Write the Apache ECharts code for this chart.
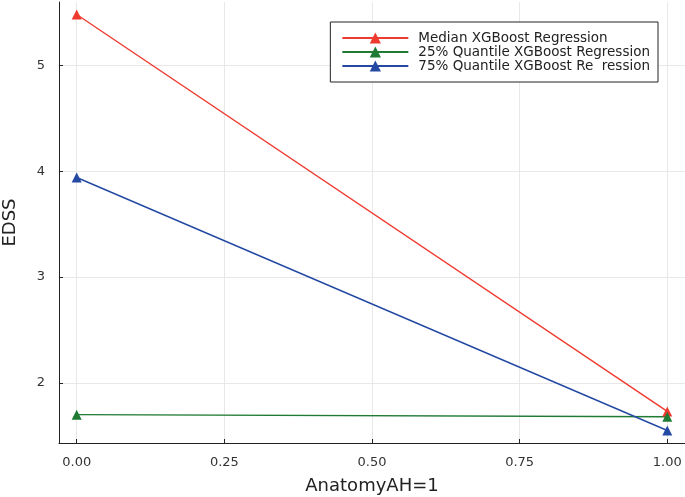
<!DOCTYPE html>
<html><head><meta charset="utf-8">
<script src="https://cdn.jsdelivr.net/npm/echarts@6/dist/echarts.min.js"></script>
<style>html,body{margin:0;padding:0;background:#fff}#c{width:685px;height:497px}</style>
</head><body><div id="c"></div>
<script>
const xValues = [0, 1];
const medianVals = [5.48, 1.73];
const q25Vals = [1.70, 1.68];
const q75Vals = [3.94, 1.55];
const xTicks = [0, 0.25, 0.5, 0.75, 1];
const yTicks = [2, 3, 4, 5];
const names = ['Median XGBoost Regression', '25% Quantile XGBoost Regression', '75% Quantile XGBoost Re  ression'];
const colors = ['#ee3b2f', '#1f7a34', '#2449a3'];

const chart = echarts.init(document.getElementById('c'));
const font = 'DejaVu Sans';
function mk(name, vals, color) {
  return {
    name, type: 'line', data: xValues.map((x, i) => [x, vals[i]]),
    symbol: 'triangle', symbolSize: 10,
    lineStyle: { color, width: 1.4 }, itemStyle: { color },
    emphasis: { disabled: true }, animation: false
  };
}
chart.setOption({
  animation: false,
  textStyle: { fontFamily: font },
  grid: { left: 59, right: 0, top: 2, bottom: 54, containLabel: false, outerBoundsMode: 'none' },
  legend: {
    right: 27, top: 22, orient: 'vertical',
    data: names,
    itemWidth: 66, itemHeight: 14, itemGap: 0,
    borderColor: '#222', borderWidth: 1, padding: [9, 8, 9, 11],
    textStyle: { fontFamily: font, fontSize: 13.5, color: '#222', padding: [0, 0, 0, 5] },
    backgroundColor: '#fff'
  },
  xAxis: {
    type: 'value', min: -0.03, max: 1.03,
    name: 'AnatomyAH=1', nameLocation: 'middle', nameGap: 34,
    nameTextStyle: { fontFamily: font, fontSize: 18, color: '#222' },
    axisLine: { onZero: false, lineStyle: { color: '#222', width: 1 } },
    axisTick: { inside: true, length: 4, lineStyle: { color: '#222' }, customValues: xTicks },
    axisLabel: { customValues: xTicks, formatter: v => v.toFixed(2), fontSize: 13, color: '#333', margin: 13 },
    splitLine: { show: true, lineStyle: { color: '#e8e8e8', width: 1 } }
  },
  yAxis: {
    type: 'value', min: 1.432, max: 5.598,
    name: 'EDSS', nameLocation: 'middle', nameGap: 40,
    nameTextStyle: { fontFamily: font, fontSize: 18, color: '#222' },
    axisLine: { show: true, onZero: false, lineStyle: { color: '#222', width: 1 } },
    axisTick: { show: true, inside: true, length: 4, lineStyle: { color: '#222' }, customValues: yTicks },
    axisLabel: { customValues: yTicks, fontSize: 13, color: '#333', margin: 14 },
    splitLine: { show: true, lineStyle: { color: '#e8e8e8', width: 1 } }
  },
  series: [mk(names[0], medianVals, colors[0]), mk(names[1], q25Vals, colors[1]), mk(names[2], q75Vals, colors[2])]
});
</script></body></html>
